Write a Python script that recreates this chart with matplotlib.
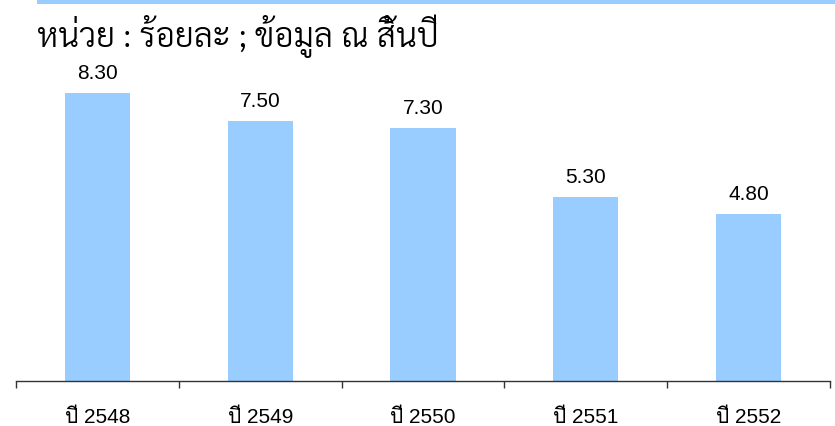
import matplotlib
matplotlib.use("Agg")
import matplotlib.pyplot as plt
from matplotlib.patches import Rectangle

# ข้อมูล (ร้อยละ ณ สิ้นปี)
years = ["ปี 2548", "ปี 2549", "ปี 2550", "ปี 2551", "ปี 2552"]
values = [8.30, 7.50, 7.30, 5.30, 4.80]

bar_color = "#99CCFF"
tick_font = ["Liberation Sans", "Loma"]

W, H = 835, 426
fig = plt.figure(figsize=(W / 100, H / 100), dpi=100)

# แถบสีด้านบน
fig.patches.append(Rectangle((37 / W, 1 - 4 / H), 1, 4 / H, transform=fig.transFigure,
                             facecolor=bar_color, edgecolor="none"))

fig.text(37 / W, 1 - 36 / H, "หน่วย : ร้อยละ ; ข้อมูล ณ สิ้นปี", family=["Sarabun"],
         fontsize=24, fontweight=300, va="center", ha="left")

ax = fig.add_axes([16 / W, (H - 380.5) / H, 814 / W, 311 / H])
x = range(len(values))
ax.bar(x, values, width=0.4, color=bar_color, zorder=2)
for xi, v in zip(x, values):
    ax.annotate(f"{v:.2f}", (xi, v), xytext=(0, 7.5), textcoords="offset points",
                ha="center", va="bottom", fontsize=15, family=["Liberation Sans"])

ax.set_xlim(-0.5, len(values) - 0.5)
ax.set_ylim(0, 311 / 34.6)

for side in ["left", "right", "top"]:
    ax.spines[side].set_visible(False)
ax.spines["bottom"].set_color("#333333")
ax.spines["bottom"].set_linewidth(1.0)

# ขีดที่รอยต่อหมวดหมู่ ป้ายชื่ออยู่กลางหมวด
ax.set_xticks([i - 0.5 for i in range(len(values) + 1)])
ax.set_xticklabels([])
ax.set_xticks(list(x), minor=True)
ax.set_xticklabels(years, minor=True, family=tick_font, fontsize=15)
ax.tick_params(axis="x", which="major", direction="out", length=5, width=1.0, color="#333333")
ax.tick_params(axis="x", which="minor", length=0, pad=20)
ax.set_yticks([])

fig.savefig("out.png", dpi=100)
